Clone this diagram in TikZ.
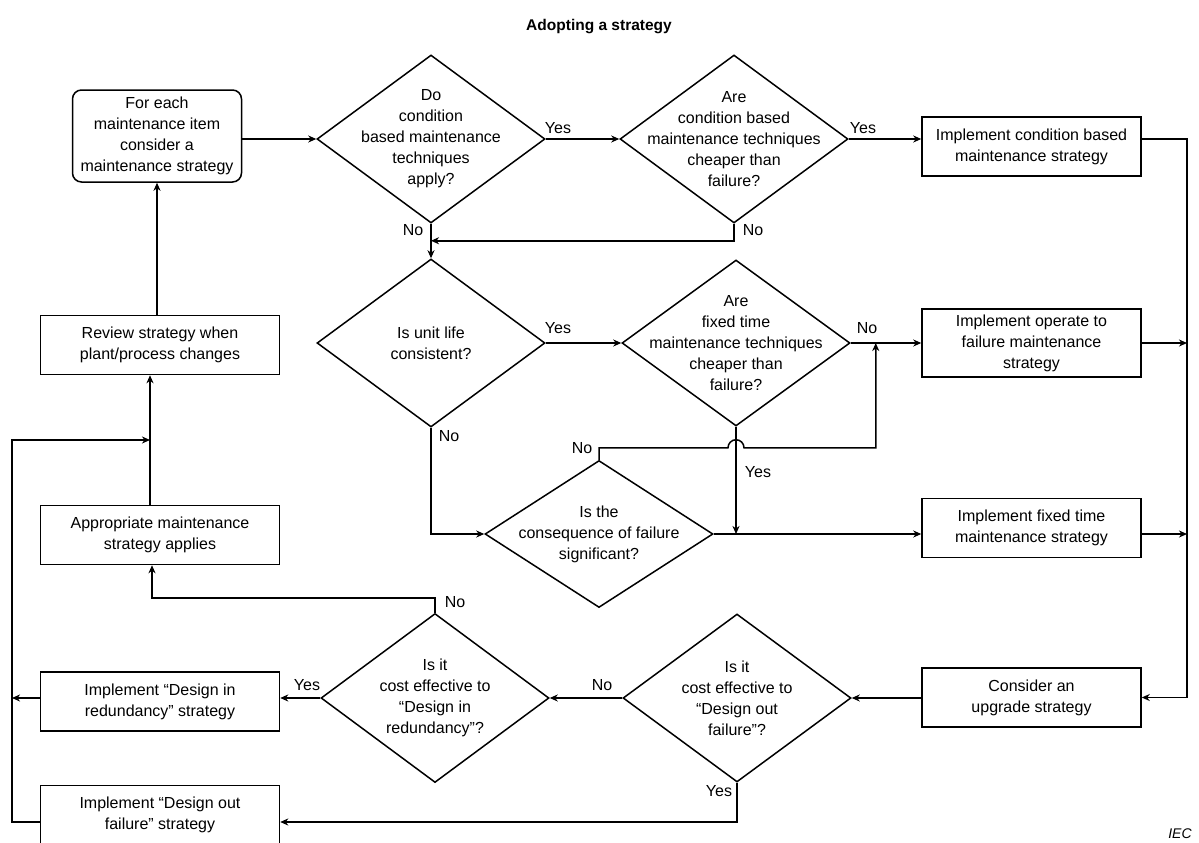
\documentclass[tikz,border=0pt]{standalone}
\usepackage{fontspec}
\setmainfont{Liberation Sans}
\usetikzlibrary{arrows.meta,positioning,shapes.geometric}
\newcommand{\flowfont}{\fontsize{16}{21}\selectfont}
\tikzset{
  stepbox/.style={
    draw,
    line width=1.5pt,
    minimum width=219pt,
    minimum height=59pt,
    inner sep=2pt,
    align=center,
    font=\flowfont
  },
  leftbox/.style={
    stepbox,
    minimum width=239pt
  },
  startbox/.style={
    stepbox,
    rounded corners=9pt,
    minimum width=169pt,
    minimum height=92pt
  },
  decision/.style={
    diamond,
    draw,
    line width=1.5pt,
    inner sep=0pt,
    minimum width=228pt,
    minimum height=168pt,
    label={[align=center,font=\flowfont]center:#1}
  },
  lbl/.style={
    inner sep=0pt,
    font=\flowfont
  },
  flow/.style={
    -{Stealth[length=8pt,width=7pt,inset=2.5pt]},
    line width=1.5pt
  }
}

\begin{document}
\begin{tikzpicture}[x=1pt,y=-1pt]
\useasboundingbox (0,0) rectangle (1199,843);
\node[font=\bfseries\fontsize{15.5}{18}\selectfont] (title) at (599,27) {Adopting a strategy};

% left column
\node[startbox] (start) at (157,136) {For each\\maintenance item\\consider a\\maintenance strategy};
\node[leftbox] (review) at (160,345) {Review strategy when\\plant/process changes};
\node[leftbox] (appr) at (160,535) {Appropriate maintenance\\strategy applies};
\node[leftbox] (red) at (160,701.5) {Implement “Design in\\redundancy” strategy};
\node[leftbox] (dout) at (160,815) {Implement “Design out\\failure” strategy};

% decisions
\node[decision={Do\\condition\\based maintenance\\techniques\\apply?}] (d1) at (431,139) {};
\node[decision={Are\\condition based\\maintenance techniques\\cheaper than\\failure?}] (d2) at (734,139) {};
\node[decision={Is unit life\\consistent?}] (d3) at (431,343) {};
\node[decision={Are\\fixed time\\maintenance techniques\\cheaper than\\failure?}, minimum height=166pt] (d4) at (736,343) {};
\node[decision={Is the\\consequence of failure\\significant?}, minimum height=147pt] (d5) at (599,534) {};
\node[decision={Is it\\cost effective to\\“Design out\\failure”?}] (d6) at (737,698) {};
\node[decision={Is it\\cost effective to\\“Design in\\redundancy”?}, minimum height=169pt] (d7) at (435,698) {};

% right column
\node[stepbox] (cbm) at (1031.5,146.5) {Implement condition based\\maintenance strategy};
\node[stepbox, minimum height=68pt] (otf) at (1031.5,343) {Implement operate to\\failure maintenance\\strategy};
\node[stepbox] (ft) at (1031.5,528) {Implement fixed time\\maintenance strategy};
\node[stepbox] (upg) at (1031.5,697.5) {Consider an\\upgrade strategy};

\coordinate (rbus) at (1187,0);
\coordinate (lbus) at (12,0);
\coordinate (rejoin) at (150,440);
\coordinate (d5up) at ([yshift=12pt]d5.north);
\coordinate (d4no) at ([xshift=25pt]d4.east);

% connectors
\draw[flow] (d1.west -| start.east) -- (d1.west);
\draw[flow] (d1.east) -- (d2.west);
\draw[flow] (d2.east) -- (d2.east -| cbm.west);
\draw[flow] (cbm.east |- d2.east) -| (rbus |- upg.east) -- (upg.east);
\draw[flow] (otf.east) -- (rbus |- otf.east);
\draw[flow] (ft.east |- d5.east) -- (rbus |- d5.east);
\draw[flow] (d1.south) -- (d3.north);
\draw[flow] (d2.south) |- ([yshift=-17pt]d1.south);
\draw[flow] (d3.east) -- (d4.west);
\draw[flow] (d4.east) -- (d4.east -| otf.west);
\draw[flow] (d3.south) |- (d5.west);
\draw[flow] (d4.south) -- (d4.south |- d5.east);
\draw[flow] (d5.east) -- (d5.east -| ft.west);
\draw[flow] (d5.north) -- (d5up) -- ([xshift=-8pt]d4.south |- d5up)
  arc[start angle=180,end angle=0,radius=8pt] -| (d4no);
\draw[flow] (upg.west |- d6.east) -- (d6.east);
\draw[flow] (d6.west) -- (d7.east);
\draw[flow] (d7.west) -- (d7.west -| red.east);
\draw[flow] (d7.north) -- ++(0,-15) -| ([xshift=-8pt]appr.south);
\draw[flow] (d6.south) |- ([yshift=-7pt]dout.east);
\draw[flow] ([xshift=-10pt]appr.north) -- ([xshift=-10pt]review.south);
\draw[flow] (start.south |- review.north) -- (start.south);
\draw[flow] ([yshift=-7pt]dout.west) -| (lbus |- rejoin) -- (rejoin);
\draw[flow] (red.west |- d7.west) -- (lbus |- d7.west);

% yes / no labels
\node[lbl] (y1) at (558,128) {Yes};
\node[lbl] (y2) at (863,128) {Yes};
\node[lbl] (n1) at (413,230) {No};
\node[lbl] (n2) at (753,230) {No};
\node[lbl] (y3) at (558,328) {Yes};
\node[lbl] (n4) at (867,328) {No};
\node[lbl] (n3) at (449,436) {No};
\node[lbl] (n5) at (582,448) {No};
\node[lbl] (y4) at (758,472) {Yes};
\node[lbl] (n7) at (455,602) {No};
\node[lbl] (n6) at (602,685) {No};
\node[lbl] (y7) at (307,685) {Yes};
\node[lbl] (y6) at (719,791) {Yes};

\node[font=\itshape\fontsize{14}{16}\selectfont, inner sep=1pt] (iec) at (1180,834) {IEC};
\end{tikzpicture}
\end{document}
